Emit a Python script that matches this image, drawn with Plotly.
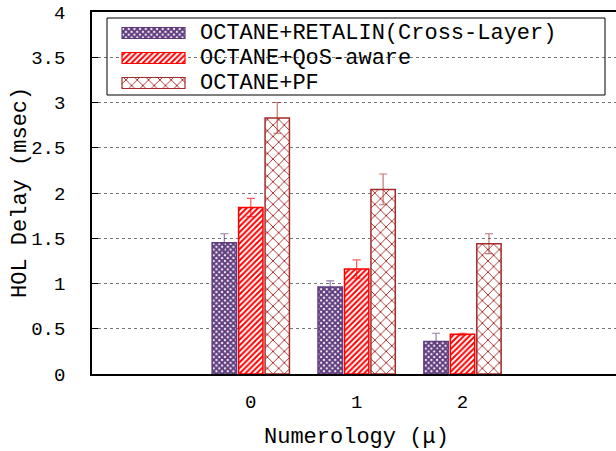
import plotly.graph_objects as go

# ---- data ----
categories = [0, 1, 2]
series_names = ["OCTANE+RETALIN(Cross-Layer)", "OCTANE+QoS-aware", "OCTANE+PF"]
retalin = [1.45, 0.96, 0.36]
retalin_err = [0.10, 0.07, 0.09]
qos = [1.84, 1.16, 0.44]
qos_err = [0.10, 0.10, 0.01]
pf = [2.83, 2.04, 1.44]
pf_err = [0.17, 0.17, 0.11]
y_ticks = [0, 0.5, 1, 1.5, 2, 2.5, 3, 3.5, 4]
y_tick_labels = ["0", "0.5", "1", "1.5", "2", "2.5", "3", "3.5", "4"]
x_tick_labels = ["0", "1", "2"]

# ---- styles ----
FONT = "Liberation Mono, Courier New, monospace"
colors = ["#603c7e", "#ff0000", "#a52a2a"]
err_colors = ["rgba(96,60,126,0.65)", "rgba(255,0,0,0.65)", "rgba(165,42,42,0.65)"]
patterns = [
    dict(shape="x", size=4, solidity=0.75),
    dict(shape="/", size=4, solidity=0.5),
    dict(shape="x", size=8, solidity=0.22),
]
values = [retalin, qos, pf]
errors = [retalin_err, qos_err, pf_err]

W, H = 616, 451
L, R, T, B = 92, 0, 12, 77
PW, PH = W - L - R, H - T - B

fig = go.Figure()
for name, vals, errs, col, ecol, pat in zip(series_names, values, errors, colors, err_colors, patterns):
    fig.add_trace(go.Bar(
        x=categories, y=vals, name=name, showlegend=False,
        marker=dict(color=col, line=dict(color=col, width=1.5),
                    pattern=dict(fgcolor=col, bgcolor="white", fillmode="replace",
                                 fgopacity=1, **pat)),
        error_y=dict(type="data", array=errs, visible=True, color=ecol, thickness=1.2, width=4),
    ))

# ---- custom legend (pixel-space overlay axes) ----
leg_rows_px = [33, 58, 83]
sw_x0, sw_len, sw_h = 122, 63, 11
for name, col, pat, ry in zip(series_names, colors, patterns, leg_rows_px):
    fig.add_trace(go.Bar(
        x=[sw_len], y=[ry], base=[sw_x0], orientation="h", width=[sw_h],
        xaxis="x2", yaxis="y2", showlegend=False, hoverinfo="skip",
        marker=dict(color=col, line=dict(color=col, width=1.2),
                    pattern=dict(fgcolor=col, bgcolor="white", fillmode="replace",
                                 fgopacity=1, **pat)),
    ))
    fig.add_annotation(x=198, y=ry, xref="x2", yref="y2", text=name, showarrow=False,
                       xanchor="left", yanchor="middle",
                       font=dict(family=FONT, size=22, color="black"))

fig.add_shape(type="rect", xref="x2", yref="y2", x0=107, x1=605, y0=18, y1=95,
              line=dict(color="black", width=1), fillcolor="rgba(0,0,0,0)", layer="above")

fig.update_layout(
    width=W, height=H,
    margin=dict(l=L, r=R, t=T, b=B),
    paper_bgcolor="white", plot_bgcolor="white",
    barmode="group", bargap=0.25, bargroupgap=0.08,
    font=dict(family=FONT, size=18, color="black"),
    xaxis=dict(range=[-1.5, 3.45], tickvals=categories, ticktext=x_tick_labels,
               showgrid=False, zeroline=False, showline=True, linecolor="black",
               linewidth=1.5, mirror=True, ticks="", ticklabelstandoff=9,
               tickfont=dict(family=FONT, size=19)),
    yaxis=dict(range=[0, 4], tickvals=y_ticks, ticktext=y_tick_labels,
               showgrid=True, gridcolor="#777777", griddash="dot", gridwidth=1,
               zeroline=False, showline=True, linecolor="black", linewidth=1.5,
               mirror=False, ticks="inside", ticklen=6, tickcolor="black",
               ticklabelstandoff=21, tickfont=dict(family=FONT, size=19)),
    xaxis2=dict(domain=[0, 1], range=[L, W - R], overlaying="x", visible=False,
                fixedrange=True),
    yaxis2=dict(domain=[0, 1], range=[H - B, T], overlaying="y", visible=False,
                fixedrange=True),
    showlegend=False,
)

fig.add_annotation(x=(20 - L) / PW, y=0.5, xref="paper", yref="paper",
                   text="HOL Delay (msec)", textangle=-90, showarrow=False,
                   xanchor="center", yanchor="middle",
                   font=dict(family=FONT, size=22, color="black"))
fig.add_annotation(x=(356 - L) / PW, y=((H - B) - 437) / PH, xref="paper", yref="paper",
                   text="Numerology (μ)", showarrow=False,
                   xanchor="center", yanchor="middle",
                   font=dict(family=FONT, size=22, color="black"))

fig.write_html("out.html", config={"displayModeBar": False},
               post_script="document.body.style.margin='0';document.body.style.overflow='hidden';")
